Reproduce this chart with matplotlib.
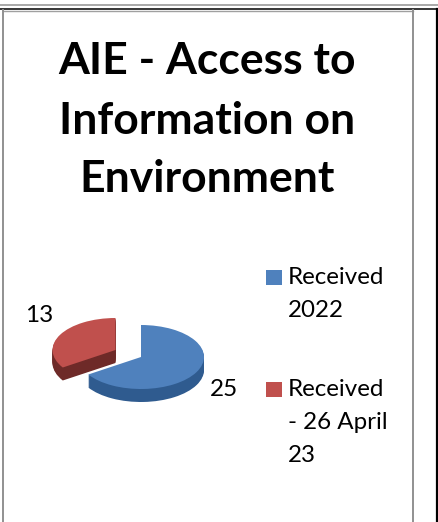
import matplotlib
matplotlib.use("Agg")
import matplotlib.pyplot as plt
from matplotlib.lines import Line2D
from matplotlib.patches import Rectangle

W, H = 438, 522
title_lines = ["AIE - Access to", "Information on", "Environment"]
categories = ["Received\n2022", "Received\n- 26 April\n23"]
values = [25, 13]
top_colors = ["#4f81bd", "#c0504d"]
side_colors = ["#2f5b8f", "#6e2a28"]

plt.rcParams["font.family"] = ["Lato", "DejaVu Sans"]
fig = plt.figure(figsize=(W / 100, H / 100), dpi=100, facecolor="white")


def fx(x):
    return x / W


def fy(y):
    return 1 - y / H


def hline(y, x0, x1, color, lw):
    fig.add_artist(Line2D([fx(x0), fx(x1)], [fy(y), fy(y)], color=color, lw=lw, transform=fig.transFigure))


def vline(x, y0, y1, color, lw):
    fig.add_artist(Line2D([fx(x), fx(x)], [fy(y0), fy(y1)], color=color, lw=lw, transform=fig.transFigure))


hline(4.5, 0, 437, "#a8a8a8", 1.4)
hline(9, 0, 438, "#000000", 1.1)
hline(10.5, 3, 413, "#a0a0a0", 1.0)
vline(2.5, 10, 522, "#909090", 1.4)
vline(413, 10, 522, "#909090", 1.4)
vline(437, 9, 522, "#000000", 1.6)

# Pie: one data unit is rx pixels across and ry pixels down
rx, ry, cx, cy = 63, 32, 141, 357
depth_px = 13
span = 1.6
ax = fig.add_axes([fx(cx - span * rx), fy(cy + span * ry), 2 * span * rx / W, 2 * span * ry / H])
explode = [0, 0.46]
for step in range(depth_px, 0, -1):
    ax.pie(values, colors=side_colors, startangle=90, counterclock=False, explode=explode,
           center=(0, -step / ry), wedgeprops={"linewidth": 0.6, "edgecolor": "none"})
ax.pie(values, colors=top_colors, startangle=90, counterclock=False, explode=explode,
       wedgeprops={"linewidth": 0})
ax.set_aspect("auto")
ax.set_xlim(-span, span)
ax.set_ylim(-span, span)
ax.axis("off")

# Title
for line, y in zip(title_lines, [61, 121, 179]):
    fig.text(fx(207), fy(y), line, ha="center", va="center", fontsize=32, fontweight="bold", color="#000000")

# Value labels
fig.text(fx(39), fy(316), str(values[1]), ha="center", va="center", fontsize=17.5, color="#000000")
fig.text(fx(224), fy(390), str(values[0]), ha="center", va="center", fontsize=17.5, color="#000000")

# Legend
for label, color, y_box, y_text in zip(categories, top_colors, [270, 382], [278, 390]):
    fig.add_artist(Rectangle((fx(266), fy(y_box + 15)), 16 / W, 15 / H, transform=fig.transFigure,
                             facecolor=color, edgecolor="none"))
    for i, part in enumerate(label.split("\n")):
        fig.text(fx(288), fy(y_text + i * 32.5), part, ha="left", va="center", fontsize=17.4, color="#000000")

fig.savefig("out.png", dpi=100, facecolor="white")
